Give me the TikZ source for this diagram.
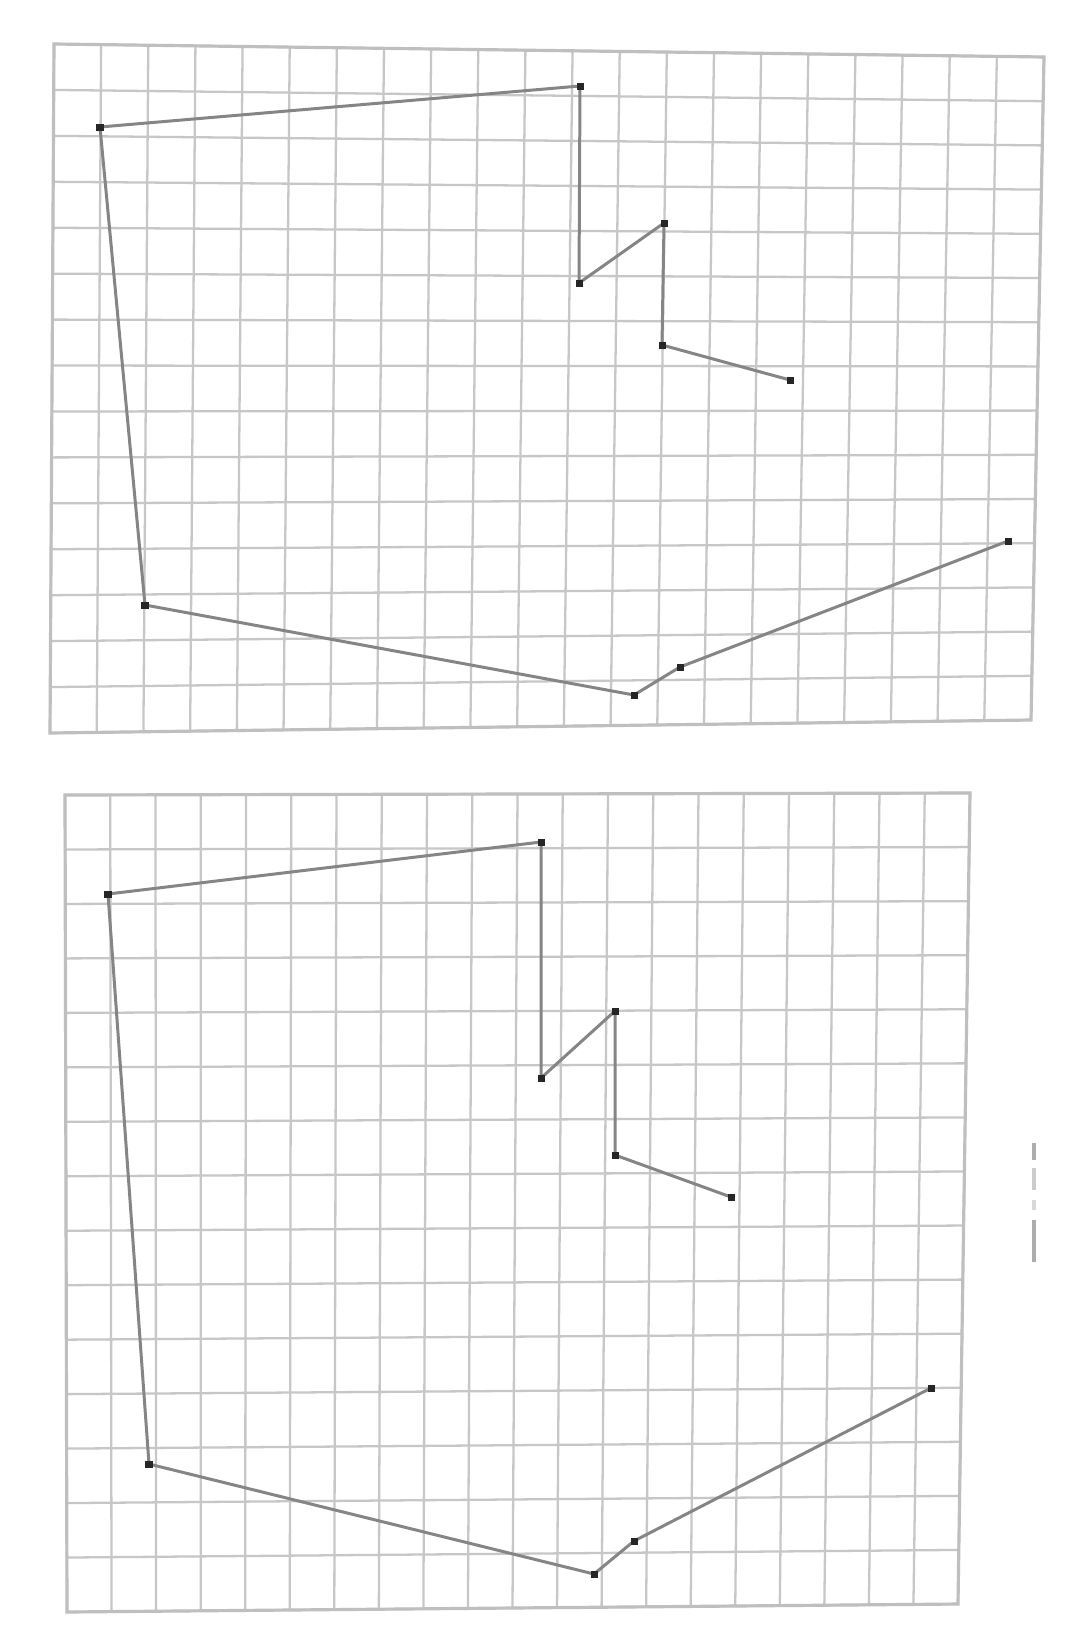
\documentclass[tikz,border=0pt]{standalone}
\usetikzlibrary{calc}
\tikzset{
  gridline/.style={draw=black!22, line width=0.65pt},
  gridframe/.style={draw=black!25, line width=0.9pt},
  polyline/.style={draw=black!48, line width=0.85pt, line join=round},
  vertexdot/.style={rectangle, fill=black!85, inner sep=0pt, minimum size=0.07cm},
  scanmark/.style={draw=black!32, line width=1.4pt}
}
\begin{document}
\begin{tikzpicture}[x=0.01cm,y=-0.01cm]
\useasboundingbox (0,0) rectangle (1077,1636);
\fill[white] (0,0) rectangle (1077,1636);

% ---------- top grid (21 x 15) ----------
\coordinate (tTL) at (54,44);
\coordinate (tTR) at (1044,57);
\coordinate (tBL) at (50,733);
\coordinate (tBR) at (1031,720);
\foreach \i in {0,...,21} {
  \draw[gridline] ($(tTL)!\i/21!(tTR)$) -- ($(tBL)!\i/21!(tBR)$);
}
\foreach \j in {0,...,15} {
  \draw[gridline] ($(tTL)!\j/15!(tBL)$) -- ($(tTR)!\j/15!(tBR)$);
}
\draw[gridframe] (tTL) -- (tTR) -- (tBR) -- (tBL) -- cycle;

% ---------- bottom grid (20 x 15) ----------
\coordinate (bTL) at (65,795);
\coordinate (bTR) at (970,793);
\coordinate (bBL) at (67,1612);
\coordinate (bBR) at (958,1604);
\foreach \i in {0,...,20} {
  \draw[gridline] ($(bTL)!\i/20!(bTR)$) -- ($(bBL)!\i/20!(bBR)$);
}
\foreach \j in {0,...,15} {
  \draw[gridline] ($(bTL)!\j/15!(bBL)$) -- ($(bTR)!\j/15!(bBR)$);
}
\draw[gridframe] (bTL) -- (bTR) -- (bBR) -- (bBL) -- cycle;

% ---------- top figure ----------
\coordinate (a1) at (100,127);
\coordinate (a2) at (580,86);
\coordinate (a3) at (579,283);
\coordinate (a4) at (664,223);
\coordinate (a5) at (662,345);
\coordinate (a6) at (790,380);
\coordinate (a7) at (145,605);
\coordinate (a8) at (634,695);
\coordinate (a9) at (680,667);
\coordinate (a10) at (1008,541);
\draw[polyline] (a6) -- (a5) -- (a4) -- (a3) -- (a2) -- (a1) -- (a7) -- (a8) -- (a9) -- (a10);
\foreach \p in {a1,a2,a3,a4,a5,a6,a7,a8,a9,a10} {
  \node[vertexdot] (d\p) at (\p) {};
}

% ---------- bottom figure ----------
\coordinate (b1) at (108,894);
\coordinate (b2) at (541,842);
\coordinate (b3) at (541,1078);
\coordinate (b4) at (615,1011);
\coordinate (b5) at (615,1155);
\coordinate (b6) at (731,1197);
\coordinate (b7) at (149,1464);
\coordinate (b8) at (594,1574);
\coordinate (b9) at (634,1541);
\coordinate (b10) at (931,1388);
\draw[polyline] (b6) -- (b5) -- (b4) -- (b3) -- (b2) -- (b1) -- (b7) -- (b8) -- (b9) -- (b10);
\foreach \p in {b1,b2,b3,b4,b5,b6,b7,b8,b9,b10} {
  \node[vertexdot] (d\p) at (\p) {};
}

% ---------- faint scan mark at right ----------
\coordinate (m1) at (1034,1143);
\coordinate (m2) at (1034,1160);
\coordinate (m3) at (1034,1168);
\coordinate (m4) at (1034,1190);
\coordinate (m5) at (1034,1200);
\coordinate (m6) at (1034,1210);
\coordinate (m7) at (1034,1220);
\coordinate (m8) at (1034,1262);
\draw[scanmark] (m1) -- (m2);
\draw[scanmark, draw=black!20] (m3) -- (m4);
\draw[scanmark, draw=black!15] (m5) -- (m6);
\draw[scanmark] (m7) -- (m8);
\end{tikzpicture}
\end{document}
